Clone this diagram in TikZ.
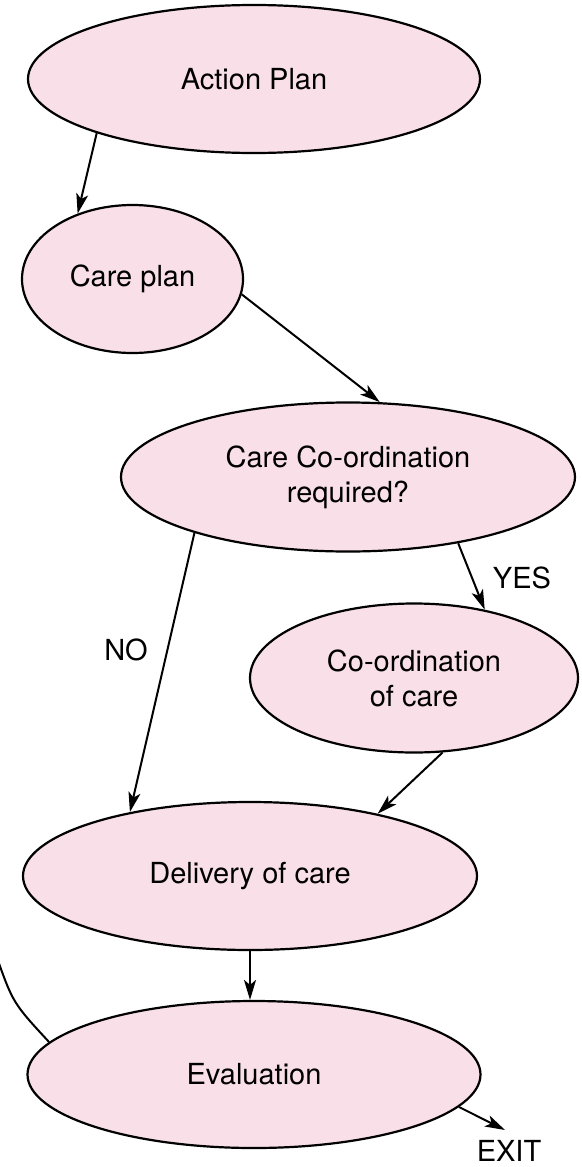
\documentclass[tikz,border=0pt]{standalone}
\usepackage{fontspec}
\setmainfont{TeX Gyre Heros}
\usetikzlibrary{shapes.geometric,arrows.meta}
\definecolor{stagepink}{RGB}{249,223,231}
\begin{document}
\begin{tikzpicture}[x=1pt,y=1pt,
  stage/.style={ellipse, draw=black, line width=2.2pt, fill=stagepink,
    inner sep=0pt, align=center, font=\fontsize{29}{35}\selectfont},
  flow/.style={line width=2pt, -{Stealth[length=20pt,width=12pt,inset=5pt]}},
  lbl/.style={font=\fontsize{29}{35}\selectfont, inner sep=0pt}]
\useasboundingbox (0,0) rectangle (581,-1167);
\clip (0,0) rectangle (581,-1167);

% stages of the care cycle
\node[stage, minimum width=452pt, minimum height=148pt] (ap) at (254,-79) {Action Plan};
\node[stage, minimum width=221pt, minimum height=148pt] (cp) at (132.5,-279) {Care plan};
\node[stage, minimum width=454pt, minimum height=149pt] (cc) at (348,-477) {Care Co-ordination\\required?};
\node[stage, minimum width=328pt, minimum height=149pt] (co) at (414,-678) {Co-ordination\\of care};
\node[stage, minimum width=454pt, minimum height=148pt] (dv) at (250,-876) {Delivery of care};
\node[stage, minimum width=453pt, minimum height=147pt] (ev) at (254,-1074.5) {Evaluation};

% branch labels
\node[lbl] (no) at (126,-650) {NO};
\node[lbl] (yes) at (522,-578) {YES};
\node[lbl] (exit) at (509,-1151) {EXIT};

% flow between stages
\draw[flow] (ap.199) -- (cp.130);
\draw[flow] (cp.-8) -- (cc.67);
\draw[flow] (cc.200) -- (dv.152);
\draw[flow] (cc.-31) -- (co.44);
\draw[flow] (co.-69) -- (dv.26);
\draw[flow] (dv.south) -- (dv.south |- ev.north);
\coordinate (exitpt) at (505,-1130);
\draw[flow] (ev.-9) -- (exitpt);

% loop back from evaluation
\coordinate (loopend) at (-4,-955);
\draw[line width=2pt] (ev.171) .. controls (13,-1003) .. (loopend);
\end{tikzpicture}
\end{document}
